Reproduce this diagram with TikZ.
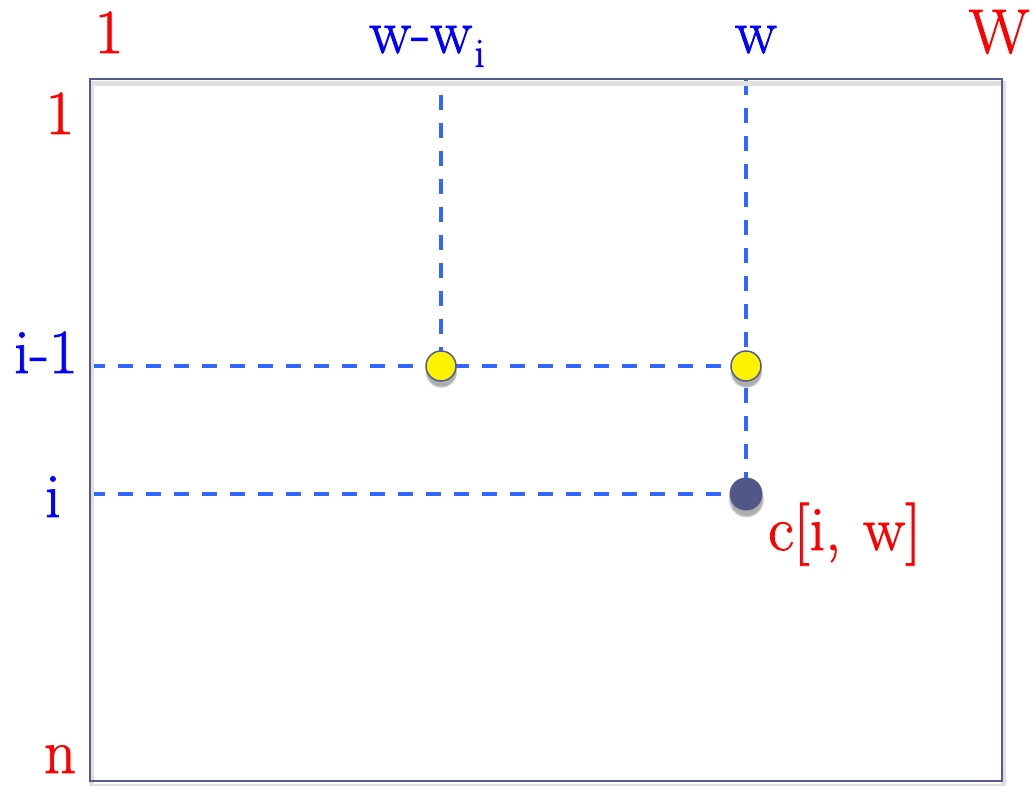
\documentclass[tikz,border=0pt]{standalone}
\usepackage{fontspec}
\newfontfamily\tabfont{Latin Modern Roman}[FakeBold=1.2]
\usetikzlibrary{shadows,backgrounds}
\definecolor{framecol}{HTML}{535B8F}
\definecolor{gridblue}{HTML}{3366FF}
\definecolor{dotcol}{HTML}{52578A}
\tikzset{
  lbl/.style={font=\tabfont\fontsize{63}{63}\selectfont,inner sep=0pt,anchor=base},
  idx/.style={lbl,text=blue},
  lim/.style={lbl,text=red},
  gridline/.style={gridblue,line width=4pt,dash pattern=on 15pt off 13pt},
  gridshade/.style={gray!30,line width=4pt,dash pattern=on 15pt off 13pt},
  dot/.style={circle,draw=framecol,line width=1.5pt,inner sep=0pt,
    circular drop shadow={shadow xshift=0pt,shadow yshift=-5pt,opacity=.45,fill=black!70}},
}
\begin{document}
\begin{tikzpicture}[x=1pt,y=-1pt]
\useasboundingbox (0,0) rectangle (1031,786);
% table frame
\draw[gray!25,line width=5pt] (91,84) rectangle (1003,786);
\draw[framecol,line width=2.5pt] (90,79) rectangle (1002,781);
% column and row labels
\node[lim] (col1) at (109,53) {1};
\node[idx,anchor=base west] (colww) at (369,53) {w-w\kern2pt\raisebox{-14pt}{\tabfont\fontsize{42}{42}\selectfont i}};
\node[idx] (colw) at (756,53) {w};
\node[lim] (colW) at (999,53) {W};
\node[lim] (row1) at (60,134) {1};
\node[idx,anchor=base east] (rowim1) at (78,373) {i-1};
\node[idx] (rowi) at (53,517) {i};
\node[lim] (rown) at (60,773) {n};
% cells
\coordinate (ww-top) at (441,95);
\coordinate (w-top) at (746,80);
\coordinate (im1-left) at (90,366);
\coordinate (i-left) at (90,494);
\node[dot,fill=yellow,minimum size=30pt] (prev) at (441,366) {};
\node[dot,fill=yellow,minimum size=30pt] (keep) at (746,366) {};
\node[dot,fill=dotcol,draw=none,minimum size=33pt] (cell) at (746,494) {};
\node[lim,anchor=base west] (cellname) at (768,550) {c[i,\hspace{.35em}w]};
\begin{scope}[on background layer]
\begin{scope}[yshift=-6pt]
\draw[gridshade] (ww-top) -- (prev.center);
\draw[gridshade] (w-top) -- (cell.center);
\draw[gridshade] (im1-left) -- (keep.center);
\draw[gridshade] (i-left) -- (cell.center);
\end{scope}
\draw[gridline] (ww-top) -- (prev.center);
\draw[gridline] (w-top) -- (cell.center);
\draw[gridline] (im1-left) -- (keep.center);
\draw[gridline] (i-left) -- (cell.center);
\end{scope}
\end{tikzpicture}
\end{document}
